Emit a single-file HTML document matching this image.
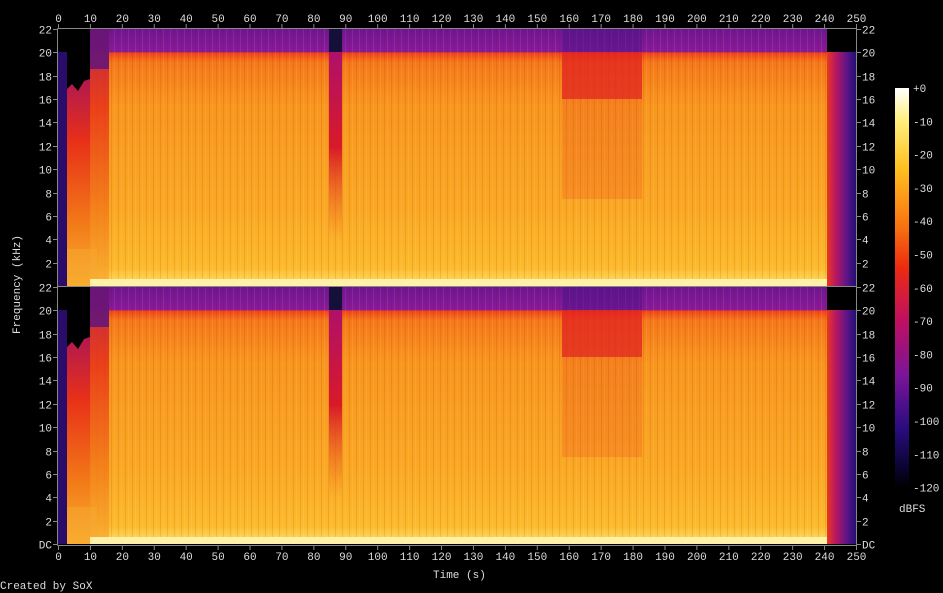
<!DOCTYPE html>
<html><head><meta charset="utf-8"><style>
html,body{margin:0;padding:0;background:#000;width:943px;height:593px;overflow:hidden}
svg text{font-family:"Liberation Mono","DejaVu Sans Mono",monospace;font-size:11px;fill:#ddd}
</style></head><body>
<svg id="s" width="943" height="593" xmlns="http://www.w3.org/2000/svg">
<defs>
<linearGradient id="base" x1="0" y1="0" x2="0" y2="1">
<stop offset="0" stop-color="#6e1690"/><stop offset="0.09" stop-color="#8a1a98"/>
<stop offset="0.092" stop-color="#f04418"/><stop offset="0.13" stop-color="#f5781a"/>
<stop offset="0.3" stop-color="#f8961e"/><stop offset="0.7" stop-color="#faa824"/>
<stop offset="0.93" stop-color="#fcba2c"/><stop offset="0.97" stop-color="#fdd050"/><stop offset="1" stop-color="#fff4b0"/>
</linearGradient>
<linearGradient id="left" x1="0" y1="0" x2="0" y2="1">
<stop offset="0" stop-color="#b01850"/><stop offset="0.3" stop-color="#e83018"/>
<stop offset="0.7" stop-color="#f27a18"/><stop offset="1" stop-color="#f8b030"/>
</linearGradient>
<linearGradient id="right" x1="0" y1="0" x2="1" y2="0">
<stop offset="0" stop-color="#e83820"/><stop offset="0.3" stop-color="#b81860"/>
<stop offset="0.7" stop-color="#5a1488"/><stop offset="1" stop-color="#201070"/>
</linearGradient>
<linearGradient id="gap" x1="0" y1="0" x2="0" y2="1">
<stop offset="0" stop-color="#b0106a"/><stop offset="0.5" stop-color="#d81a28"/><stop offset="1" stop-color="#f07018" stop-opacity="0"/>
</linearGradient>
<linearGradient id="cb" x1="0" y1="0" x2="0" y2="1">
<stop offset="0" stop-color="#ffffff"/><stop offset="0.08" stop-color="#fff080"/>
<stop offset="0.2" stop-color="#ffc020"/><stop offset="0.35" stop-color="#f87010"/>
<stop offset="0.45" stop-color="#ec2a10"/><stop offset="0.58" stop-color="#c01060"/>
<stop offset="0.72" stop-color="#7a1498"/><stop offset="0.85" stop-color="#2a0c80"/>
<stop offset="0.95" stop-color="#0a0430"/><stop offset="1" stop-color="#000"/>
</linearGradient>
<pattern id="str" width="7" height="257" patternUnits="userSpaceOnUse">
<rect x="0" y="0" width="1" height="257" fill="#fff" opacity="0.08"/>
<rect x="4" y="0" width="1" height="257" fill="#800" opacity="0.1"/>
</pattern>
<g id="panel">
<rect x="0" y="0" width="798" height="257" fill="url(#base)"/>
<rect x="0" y="0" width="798" height="257" fill="url(#str)"/>
<rect x="0" y="0" width="32" height="257" fill="#000"/>
<rect x="0" y="23" width="9" height="234" fill="#2a0c6a"/>
<path d="M9 60 L14 55 L20 62 L26 52 L32 50 L32 257 L9 257 Z" fill="url(#left)"/>
<rect x="32" y="0" width="19" height="257" fill="url(#left)" opacity="0.85"/>
<rect x="32" y="0" width="19" height="40" fill="#5a1480" opacity="0.8"/>
<rect x="271" y="0" width="13" height="23" fill="#14103a"/>
<rect x="271" y="23" width="13" height="190" fill="url(#gap)"/>
<rect x="504" y="23" width="80" height="47" fill="#e02020" opacity="0.75"/>
<rect x="504" y="0" width="80" height="23" fill="#4a1288" opacity="0.5"/>
<rect x="504" y="70" width="80" height="100" fill="#e83018" opacity="0.2"/>
<rect x="769" y="0" width="29" height="23" fill="#000"/>
<rect x="769" y="23" width="29" height="234" fill="url(#right)"/>
<rect x="9" y="220" width="30" height="37" fill="#f8a830" opacity="0.5"/>
<rect x="32" y="250" width="737" height="7" fill="#fff2a8"/>
</g>
</defs>
<use href="#panel" x="58" y="29"/>
<use href="#panel" x="58" y="287"/>
<rect x="895" y="88" width="14" height="400" fill="url(#cb)"/>
<g id="ax" stroke="#888" fill="none" stroke-width="1"></g>
<g id="tx"></g>
<text x="433" y="578">Time (s)</text>
<text x="0" y="589">Created by SoX</text>
<text x="899" y="512">dBFS</text>
<text transform="translate(20,334) rotate(-90)">Frequency (kHz)</text>
</svg>
<script>
var ax=document.getElementById('ax'),tx=document.getElementById('tx'),NS='http://www.w3.org/2000/svg';
function L(x1,y1,x2,y2){var l=document.createElementNS(NS,'line');l.setAttribute('x1',x1);l.setAttribute('y1',y1);l.setAttribute('x2',x2);l.setAttribute('y2',y2);ax.appendChild(l);}
function T(x,y,s,a){var t=document.createElementNS(NS,'text');t.setAttribute('x',x);t.setAttribute('y',y);if(a)t.setAttribute('text-anchor',a);t.textContent=s;tx.appendChild(t);}
L(57.5,28.5,856.5,28.5);L(57.5,545.5,856.5,545.5);L(57.5,28.5,57.5,545.5);L(856.5,28.5,856.5,545.5);L(57.5,286.5,856.5,286.5);
for(var t=0;t<=250;t+=10){var x=58+t*3.192+0.5;L(x,24,x,28.5);L(x,545.5,x,550);T(x,22,t,'middle');T(x,560,t,'middle');}
[29,287].forEach(function(y0,p){for(var f=22;f>=0;f-=2){var y=Math.round(y0+(22-f)*11.68)+0.5;if(p==0&&f==0)continue;L(53,y,57.5,y);L(856.5,y,861,y);var s=f==0?'DC':f;T(52,y+4,s,'end');T(862,y+4,s);}});
for(var i=0;i<=12;i++){var y=88+i*33.3;T(913,y+4,i==0?'+0':'-'+i*10);}
</script>
</body></html>
